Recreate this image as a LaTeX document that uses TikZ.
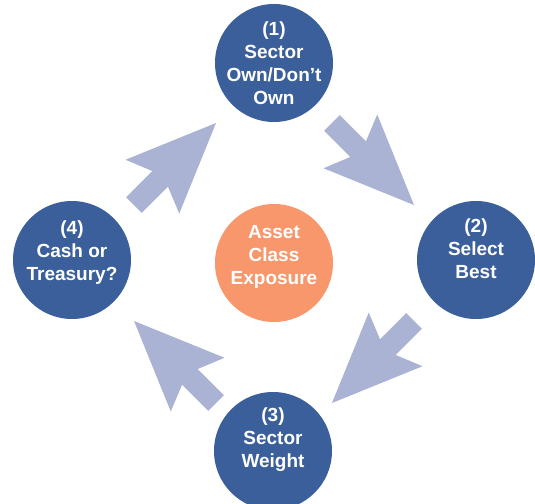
\documentclass[tikz,border=0pt]{standalone}
\usepackage{fontspec}
\setmainfont{Liberation Sans}
\usetikzlibrary{calc}
\definecolor{stepblue}{HTML}{3A5F9B}
\definecolor{hubcoral}{HTML}{F7976B}
\definecolor{arrowgray}{HTML}{AAB3D3}

\begin{document}
\begin{tikzpicture}[x=1pt,y=-1pt,
 ball/.style={circle, minimum size=118pt, inner sep=0pt},
 balltext/.style={align=center, text=white, inner sep=0pt, font=\fontsize{19}{23}\selectfont\bfseries}]
\useasboundingbox (0,0) rectangle (535,503);
% hub and the four steps
\node[ball, fill=hubcoral] (hub) at (274,263) {};
\node[ball, fill=stepblue] (s1) at (274,63) {};
\node[ball, fill=stepblue] (s2) at (476,260) {};
\node[ball, fill=stepblue] (s3) at (273,451) {};
\node[ball, fill=stepblue] (s4) at (72,260) {};
\node[balltext] (hubtext) at ([yshift=6pt]hub.center) {Asset\\Class\\Exposure};
\node[balltext] (s1text) at (s1.center) {(1)\\Sector\\Own/Don’t\\Own};
\node[balltext] (s2text) at ([yshift=11pt]s2.center) {(2)\\Select\\Best};
\node[balltext] (s3text) at ([yshift=11pt]s3.center) {(3)\\Sector\\Weight};
\node[balltext] (s4text) at ([yshift=7pt]s4.center) {(4)\\Cash or\\Treasury?};
% block arrows, clockwise
\foreach \ang in {135,45,-45,-135} {
 \fill[arrowgray, shift={(hub.center)}, rotate=\ang] (140,58) -- (178,-32) -- (151,-21) -- (151,-58)
  -- (129,-58) -- (129,-21) -- (102,-32) -- cycle;
}
\end{tikzpicture}
\end{document}
